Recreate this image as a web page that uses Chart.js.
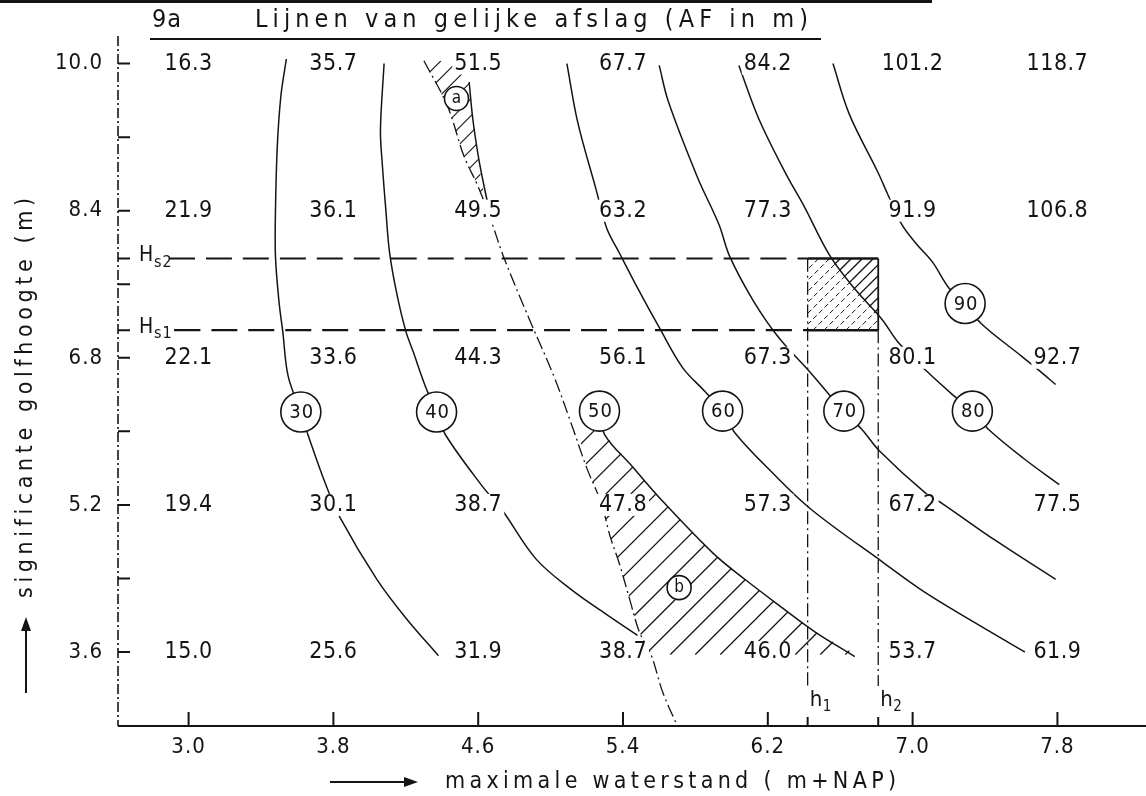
<!DOCTYPE html>
<html>
<head>
<meta charset="utf-8">
<script src="https://cdn.jsdelivr.net/npm/chart.js@4.4.1/dist/chart.umd.min.js"></script>
<style>
  html, body { margin: 0; padding: 0; background: #fff; }
  canvas { display: block; }
</style>
</head>
<body>
<canvas id="afslag" width="1146" height="796"></canvas>
<script>
// assen: maximale waterstand (m+NAP) en significante golfhoogte (m)
const waterstand = [3.0, 3.8, 4.6, 5.4, 6.2, 7.0, 7.8];
const golfhoogte = [10.0, 8.4, 6.8, 5.2, 3.6];
const golfhoogteTussen = [9.2, 7.6, 6.0, 4.4];

// afslag AF (m) per golfhoogte, van links naar rechts
const af100 = [16.3, 35.7, 51.5, 67.7, 84.2, 101.2, 118.7];
const af84 = [21.9, 36.1, 49.5, 63.2, 77.3, 91.9, 106.8];
const af68 = [22.1, 33.6, 44.3, 56.1, 67.3, 80.1, 92.7];
const af52 = [19.4, 30.1, 38.7, 47.8, 57.3, 67.2, 77.5];
const af36 = [15.0, 25.6, 31.9, 38.7, 46.0, 53.7, 61.9];
const afRijen = [af100, af84, af68, af52, af36];

// lijnen van gelijke afslag [waterstand, golfhoogte]
const lijn30 = [[3.54,10.05],[3.51,9.65],[3.49,9.1],[3.48,8.4],[3.48,7.9],[3.50,7.4],[3.52,7.09],[3.55,6.6],[3.62,6.21],[3.66,5.96],[3.76,5.41],[3.84,5.05],[4.04,4.39],[4.20,3.97],[4.38,3.56]];
const lijn40 = [[4.08,10.0],[4.06,9.28],[4.07,8.91],[4.09,8.4],[4.11,7.95],[4.15,7.5],[4.20,7.09],[4.24,6.87],[4.31,6.48],[4.37,6.21],[4.42,5.96],[4.62,5.41],[4.73,5.15],[4.92,4.61],[5.12,4.27],[5.30,4.02],[5.48,3.78]];
const lijn50boven = [[4.55,9.80],[4.57,9.4],[4.60,9.0],[4.63,8.69],[4.67,8.32]];
const lijn50onder = [[5.27,6.22],[5.30,5.96],[5.45,5.62],[5.60,5.28],[5.90,4.67],[6.08,4.38],[6.26,4.11],[6.46,3.82],[6.68,3.55]];
const lijn60 = [[5.09,10.0],[5.15,9.36],[5.25,8.64],[5.31,8.21],[5.38,7.94],[5.48,7.56],[5.60,7.13],[5.73,6.69],[5.85,6.44],[5.95,6.22],[6.02,5.98],[6.22,5.56],[6.44,5.15],[6.84,4.57],[7.06,4.26],[7.36,3.9],[7.62,3.6]];
const lijn70 = [[5.60,9.98],[5.65,9.59],[5.81,8.77],[5.93,8.25],[5.99,7.9],[6.12,7.42],[6.26,7.02],[6.43,6.65],[6.53,6.42],[6.62,6.22],[6.72,6.02],[6.82,5.78],[7.07,5.33],[7.16,5.22],[7.46,4.81],[7.79,4.39]];
const lijn80 = [[6.04,9.98],[6.15,9.4],[6.30,8.8],[6.40,8.45],[6.54,7.92],[6.68,7.55],[6.83,7.22],[6.92,6.97],[7.08,6.65],[7.22,6.40],[7.33,6.22],[7.42,6.02],[7.61,5.71],[7.81,5.42]];
const lijn90 = [[6.56,10.0],[6.65,9.45],[6.81,8.81],[6.86,8.59],[6.94,8.25],[7.02,8.04],[7.11,7.84],[7.20,7.56],[7.29,7.39],[7.38,7.17],[7.60,6.82],[7.70,6.66],[7.79,6.51]];
const grenslijn = [[4.30,10.03],[4.43,9.54],[4.52,9.0],[4.60,8.66],[4.67,8.3],[4.74,7.9],[4.88,7.23],[5.02,6.59],[5.12,6.05],[5.20,5.6],[5.28,5.22],[5.33,4.85],[5.38,4.56],[5.44,4.15],[5.49,3.82],[5.555,3.57],[5.62,3.16],[5.70,2.795]];

// cijfers in de cirkels op de lijnen
const lijnWaarde = [30, 40, 50, 60, 70, 80, 90];
const lijnLabelX = [3.62, 4.37, 5.27, 5.95, 6.62, 7.33, 7.29];
const lijnLabelY = [6.21, 6.21, 6.22, 6.22, 6.22, 6.22, 7.39];

// gebieden a en b
const gebiedNaam = ['a', 'b'];
const gebiedX = [4.48, 5.71];
const gebiedY = [9.62, 4.30];

// Hs1, Hs2 en h1, h2
const hsNaam = ['2', '1'];
const hs = [7.88, 7.10];
const hNaam = ['1', '2'];
const hw = [6.42, 6.81];

const INK = '#141414';
const FONT = "'Liberation Sans Narrow', 'DejaVu Sans Condensed', 'Liberation Sans', sans-serif";
Chart.defaults.font.family = FONT;
Chart.defaults.color = INK;

const pts = a => a.map(([x, y]) => ({ x, y }));
const lijn = (data, extra) => Object.assign({
  data: pts(data), showLine: true, pointRadius: 0, borderColor: INK,
  borderWidth: 1.5, tension: 0.35, fill: false
}, extra);
const dashDot = [13, 4, 2, 4];

// gearceerde vlakken
const arceringA = grenslijn.slice(0, 5).concat([[4.62,8.69],[4.58,9.3],[4.55,9.8],[4.53,10.03]]);
const arceringB = [[5.15,6.0],[5.20,5.6],[5.28,5.22],[5.33,4.85],[5.38,4.56],[5.44,4.15],[5.49,3.82],[5.555,3.57],[6.69,3.57],[6.46,3.82],[6.26,4.11],[6.08,4.38],[5.90,4.67],[5.60,5.28],[5.45,5.62],[5.30,5.96],[5.22,6.1]];
const vak = [[hw[0], hs[0]], [hw[1], hs[0]], [hw[1], hs[1]], [hw[0], hs[1]]];
const vakDriehoek = [[6.54, hs[0]], [hw[1], hs[0]], [hw[1], 7.24]];

function arceer(chart, poly, gap, dash, width) {
  const ctx = chart.ctx, xs = chart.scales.x, ys = chart.scales.y;
  const p = poly.map(([x, y]) => [xs.getPixelForValue(x), ys.getPixelForValue(y)]);
  const px = p.map(q => q[0]), py = p.map(q => q[1]);
  const minX = Math.min(...px), maxX = Math.max(...px);
  const minY = Math.min(...py), maxY = Math.max(...py);
  const h = maxY - minY;
  ctx.save();
  ctx.beginPath();
  p.forEach(([x, y], i) => i ? ctx.lineTo(x, y) : ctx.moveTo(x, y));
  ctx.closePath();
  ctx.clip();
  ctx.beginPath();
  for (let k = minX - h; k <= maxX; k += gap) {
    ctx.moveTo(k, maxY);
    ctx.lineTo(k + h, minY);
  }
  ctx.setLineDash(dash);
  ctx.lineWidth = width;
  ctx.strokeStyle = INK;
  ctx.stroke();
  ctx.restore();
}

function tekst(ctx, s, x, y, size, align, spacing) {
  ctx.font = size + 'px ' + FONT;
  ctx.letterSpacing = (spacing || 0) + 'px';
  ctx.textAlign = align || 'left';
  ctx.textBaseline = 'middle';
  ctx.fillStyle = INK;
  ctx.fillText(s, x, y);
}

// tekst uitrekken tot een vaste breedte
function tekstBreed(ctx, s, x, y, size, breedte) {
  ctx.font = size + 'px ' + FONT;
  ctx.letterSpacing = '0px';
  const w = ctx.measureText(s).width;
  tekst(ctx, s, x, y, size, 'left', (breedte - w) / (s.length - 1));
}

function pijl(ctx, x1, y1, x2, y2) {
  const a = Math.atan2(y2 - y1, x2 - x1);
  ctx.save();
  ctx.strokeStyle = INK; ctx.fillStyle = INK; ctx.lineWidth = 2;
  ctx.beginPath(); ctx.moveTo(x1, y1); ctx.lineTo(x2 - 10 * Math.cos(a), y2 - 10 * Math.sin(a)); ctx.stroke();
  ctx.translate(x2, y2); ctx.rotate(a);
  ctx.beginPath(); ctx.moveTo(0, 0); ctx.lineTo(-14, -5); ctx.lineTo(-14, 5); ctx.closePath(); ctx.fill();
  ctx.restore();
}

const tekening = {
  id: 'tekening',
  beforeDraw(chart) {
    chart.ctx.letterSpacing = '1px';
  },
  beforeDatasetsDraw(chart) {
    arceer(chart, arceringA, 17, [], 1.2);
    arceer(chart, arceringB, 25, [], 1.3);
    arceer(chart, vak, 11, [5, 3], 1.0);
    arceer(chart, vakDriehoek, 11, [], 1.3);
  },
  afterDatasetsDraw(chart) {
    const ctx = chart.ctx, xs = chart.scales.x, ys = chart.scales.y;
    const area = chart.chartArea;
    ctx.save();

    // afslagwaarden in het raster
    const cel = chart.getDatasetMeta(2).data;
    cel.forEach((el, i) => {
      const s = afRijen[Math.floor(i / waterstand.length)][i % waterstand.length].toFixed(1);
      ctx.font = '23px ' + FONT;
      ctx.letterSpacing = '0.5px';
      const w = ctx.measureText(s).width;
      ctx.fillStyle = '#fff';
      ctx.fillRect(el.x - w / 2 - 2, el.y - 11, w + 4, 22);
      tekst(ctx, s, el.x, el.y, 23, 'center', 0.5);
    });

    // cijfers in de cirkels
    chart.getDatasetMeta(0).data.forEach((el, i) => tekst(ctx, String(lijnWaarde[i]), el.x + 1, el.y + 1, 20, 'center', 1));
    chart.getDatasetMeta(1).data.forEach((el, i) => tekst(ctx, gebiedNaam[i], el.x, el.y, 17, 'center', 0));

    // assen
    ctx.strokeStyle = INK;
    ctx.lineWidth = 1.6;
    ctx.setLineDash([10, 3, 2, 3]);
    ctx.beginPath(); ctx.moveTo(area.left, area.top); ctx.lineTo(area.left, area.bottom); ctx.stroke();
    ctx.setLineDash([]);
    ctx.lineWidth = 2.2;
    ctx.beginPath(); ctx.moveTo(area.left, area.bottom); ctx.lineTo(chart.width, area.bottom); ctx.stroke();

    ctx.lineWidth = 2;
    ctx.beginPath();
    golfhoogte.concat(golfhoogteTussen, hs).forEach(v => {
      const y = ys.getPixelForValue(v);
      ctx.moveTo(area.left, y); ctx.lineTo(area.left + 12, y);
    });
    waterstand.forEach(v => {
      const x = xs.getPixelForValue(v);
      ctx.moveTo(x, area.bottom); ctx.lineTo(x, area.bottom - 14);
    });
    hw.forEach(v => {
      const x = xs.getPixelForValue(v);
      ctx.moveTo(x, area.bottom); ctx.lineTo(x, area.bottom - 9);
    });
    ctx.stroke();

    // Hs1, Hs2 en h1, h2
    hs.forEach((v, i) => {
      const y = ys.getPixelForValue(v);
      tekst(ctx, 'H', 139, y - 3, 21, 'left', 0);
      tekst(ctx, 's' + hsNaam[i], 154, y + 4, 16, 'left', 1);
    });
    hw.forEach((v, i) => {
      const x = xs.getPixelForValue(v);
      tekst(ctx, 'h', x + 2, 700, 22, 'left', 0);
      tekst(ctx, hNaam[i], x + 15, 707, 15, 'left', 0);
    });
    ctx.restore();
  },
  afterDraw(chart) {
    const ctx = chart.ctx;
    ctx.save();
    // rand en titel
    ctx.fillStyle = INK;
    ctx.fillRect(0, 0, 932, 3);
    tekst(ctx, '9a', 152, 20, 25, 'left', 1);
    tekstBreed(ctx, 'Lijnen van gelijke afslag (AF in m)', 255, 20, 25, 553);
    ctx.fillRect(150, 38, 671, 2);

    // astitels
    pijl(ctx, 330, 782, 418, 782);
    tekstBreed(ctx, 'maximale waterstand ( m+NAP)', 445, 782, 23, 451);
    pijl(ctx, 26, 693, 26, 617);
    ctx.translate(26, 598);
    ctx.rotate(-Math.PI / 2);
    tekstBreed(ctx, 'significante golfhoogte (m)', 0, 0, 23, 400);
    ctx.restore();
  }
};

const raster = [];
golfhoogte.forEach(y => waterstand.forEach(x => raster.push({ x, y })));

new Chart(document.getElementById('afslag'), {
  type: 'scatter',
  data: {
    datasets: [
      {
        data: lijnWaarde.map((v, i) => ({ x: lijnLabelX[i], y: lijnLabelY[i] })),
        pointRadius: 20, pointBackgroundColor: '#fff', pointBorderColor: INK, pointBorderWidth: 1.6
      },
      {
        data: gebiedNaam.map((v, i) => ({ x: gebiedX[i], y: gebiedY[i] })),
        pointRadius: 12, pointBackgroundColor: '#fff', pointBorderColor: INK, pointBorderWidth: 1.6
      },
      { data: raster, pointRadius: 0 },
      lijn(lijn30),
      lijn(lijn40),
      lijn(lijn50boven),
      lijn(lijn50onder),
      lijn(lijn60),
      lijn(lijn70),
      lijn(lijn80),
      lijn(lijn90),
      lijn(grenslijn, { borderDash: dashDot, borderWidth: 1.3 }),
      lijn([[2.89, hs[0]], [hw[0], hs[0]]], { borderDash: [26, 11], borderWidth: 2.2 }),
      lijn([[hw[0], hs[0]], [hw[1], hs[0]]], { borderWidth: 2.4 }),
      lijn([[2.92, hs[1]], [hw[0], hs[1]]], { borderDash: [26, 11], borderWidth: 2.2 }),
      lijn([[hw[0], hs[1]], [hw[1], hs[1]]], { borderWidth: 2.4 }),
      lijn([[hw[0], hs[0]], [hw[0], 3.23]], { borderDash: dashDot, borderWidth: 1.3 }),
      lijn([[hw[1], hs[0]], [hw[1], hs[1]]], { borderWidth: 1.8 }),
      lijn([[hw[1], hs[1]], [hw[1], 3.23]], { borderDash: dashDot, borderWidth: 1.3 })
    ]
  },
  options: {
    responsive: false,
    devicePixelRatio: 1,
    animation: false,
    events: [],
    layout: { padding: { top: 36, left: 0, right: 0, bottom: 0 } },
    plugins: { legend: { display: false }, tooltip: { enabled: false } },
    scales: {
      x: {
        type: 'linear', min: 2.61, max: 8.17,
        grid: { display: false, drawTicks: false },
        border: { display: false },
        afterBuildTicks: s => { s.ticks = waterstand.map(v => ({ value: v })); },
        afterFit: s => { s.height = 70; },
        ticks: { autoSkip: false, padding: 8, font: { size: 22 }, color: INK, callback: v => v.toFixed(1) }
      },
      y: {
        type: 'linear', min: 2.795, max: 10.30,
        grid: { display: false, drawTicks: false },
        border: { display: false },
        afterBuildTicks: s => { s.ticks = golfhoogte.map(v => ({ value: v })); },
        afterFit: s => { s.width = 118; },
        ticks: { autoSkip: false, padding: 15, font: { size: 22 }, color: INK, callback: v => v.toFixed(1) }
      }
    }
  },
  plugins: [tekening]
});
</script>
</body>
</html>
